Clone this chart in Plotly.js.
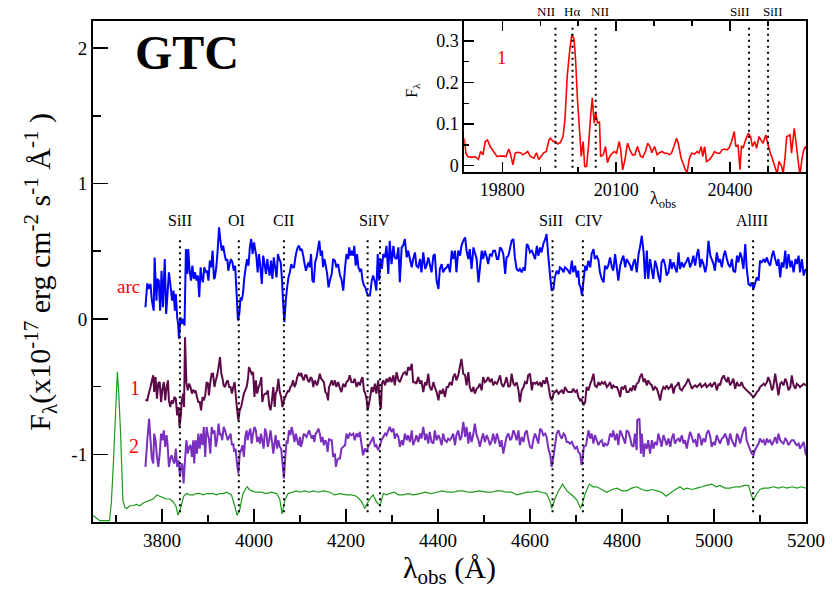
<!DOCTYPE html>
<html><head><meta charset="utf-8">
<script src="https://cdn.plot.ly/plotly-3.0.1.min.js"></script>
<style>html,body{margin:0;padding:0;background:#fff}#chart{width:837px;height:593px}</style>
</head><body><div id="chart"></div>
<script>
// ---------- DATA (wavelength [Å], flux) ----------
const arcSpec = [
[3764,0.086],[3768,0.263],[3771,0.221],[3775,0.258],[3778,0.135],[3782,0.061],[3784,0.454],[3788,0.135],[3790,0.295],[3793,0.283],
[3796,0.061],[3799,0.356],[3802,0.086],[3806,0.442],[3809,0.037],[3812,0.184],[3815,0.344],[3818,0.258],[3822,0.135],[3825,0.209],
[3828,0.061],[3830,0.184],[3833,0.012],[3835,-0.037],[3837,-0.147],[3840,0.012],[3843,-0.037],[3846,0],[3849,-0.049],
[3852,0.516],[3855,0.332],[3857,0.516],[3860,0.356],[3863,0.283],[3866,0.393],[3869,0.295],[3872,0.344],[3875,0.283],[3878,0.32],
[3881,0.16],[3884,0.381],[3886,0.307],[3889,0.27],[3892,0.381],[3895,0.344],[3898,0.356],[3901,0.283],[3904,0.43],[3907,0.381],
[3910,0.504],[3913,0.295],[3915,0.307],[3918,0.381],[3921,0.504],[3924,0.676],[3927,0.577],[3930,0.504],[3933,0.54],[3936,0.479],
[3939,0.43],[3942,0.442],[3944,0.356],[3947,0.405],[3950,0.442],[3953,0.418],[3956,0.356],[3959,0.393],[3962,0.197],[3965,-0.012],
[3968,0.037],[3971,0.16],[3973,0.135],[3976,0.184],[3979,0.307],[3982,0.381],[3985,0.442],[3988,0.393],[3991,0.528],[3994,0.59],
[3997,0.479],[4000,0.565],[4003,0.504],[4005,0.467],[4008,0.344],[4011,0.479],[4014,0.381],[4017,0.258],[4020,0.467],[4023,0.405],
[4026,0.332],[4029,0.442],[4031,0.381],[4034,0.32],[4037,0.43],[4040,0.295],[4043,0.454],[4046,0.381],[4049,0.307],[4052,0.479],
[4055,0.442],[4058,0.418],[4061,0.283],[4063,0.135],[4066,-0.025],[4069,0.135],[4072,0.233],[4075,0.307],[4078,0.344],[4081,0.405],
[4084,0.381],[4087,0.381],[4090,0.454],[4092,0.491],[4095,0.528],[4098,0.54],[4101,0.504],[4104,0.516],[4107,0.467],[4110,0.405],
[4113,0.356],[4116,0.393],[4119,0.418],[4121,0.381],[4124,0.479],[4127,0.283],[4130,0.27],[4133,0.418],[4136,0.454],[4139,0.516],
[4142,0.577],[4145,0.467],[4148,0.504],[4150,0.381],[4153,0.442],[4156,0.393],[4159,0.332],[4162,0.233],[4165,0.283],
[4169,0.332],[4172,0.442],[4176,0.43],[4179,0.381],[4183,0.405],[4187,0.32],[4190,0.295],[4194,0.209],[4198,0.381],[4201,0.479],
[4205,0.442],[4207,0.528],[4210,0.467],[4213,0.504],[4216,0.467],[4218,0.54],[4221,0.393],[4224,0.479],[4227,0.381],[4230,0.356],
[4233,0.369],[4236,0.283],[4239,0.246],[4242,0.233],[4245,0.197],[4248,0.172],[4252,0.172],[4256,0.283],[4259,0.32],[4263,0.27],
[4266,0.209],[4269,0.479],[4272,0.283],[4275,0.442],[4278,0.369],[4281,0.479],
[4285,0.454],[4288,0.54],[4292,0.332],[4295,0.577],[4299,0.405],[4303,0.54],[4306,0.454],[4310,0.442],[4314,0.528],[4317,0.27],
[4321,0.528],[4324,0.54],[4328,0.59],[4332,0.454],[4335,0.504],[4339,0.442],[4343,0.381],[4346,0.442],[4350,0.491],[4353,0.393],
[4357,0.381],[4361,0.442],[4364,0.344],[4368,0.491],[4372,0.369],[4375,0.393],[4379,0.454],[4382,0.405],[4386,0.344],[4390,0.467],
[4393,0.479],[4397,0.283],[4401,0.221],[4404,0.369],[4408,0.405],[4411,0.344],[4415,0.369],[4419,0.381],[4422,0.405],[4426,0.344],
[4430,0.504],[4433,0.442],[4437,0.504],[4440,0.344],[4444,0.504],[4448,0.467],[4451,0.54],[4455,0.577],[4459,0.602],[4462,0.504],
[4466,0.442],[4469,0.516],[4473,0.369],[4477,0.528],[4480,0.491],[4484,0.442],[4488,0.27],[4491,0.369],[4495,0.504],[4498,0.442],
[4502,0.504],[4506,0.454],[4509,0.405],[4513,0.479],[4517,0.467],[4520,0.504],[4524,0.504],[4528,0.442],[4531,0.442],[4535,0.528],
[4538,0.516],[4542,0.479],[4546,0.332],[4549,0.454],[4553,0.467],[4557,0.528],[4560,0.577],[4564,0.59],[4567,0.454],[4571,0.369],
[4575,0.356],[4578,0.369],[4582,0.344],[4586,0.381],[4589,0.356],[4593,0.553],[4596,0.54],[4600,0.491],[4604,0.504],[4607,0.479],
[4611,0.442],[4615,0.54],[4618,0.467],[4622,0.528],[4625,0.491],[4629,0.553],[4633,0.59],[4636,0.626],[4640,0.454],[4644,0.307],
[4647,0.209],[4651,0.221],[4654,0.307],[4658,0.356],[4662,0.332],[4665,0.381],[4669,0.369],[4673,0.344],[4676,0.381],[4680,0.369],
[4683,0.356],[4687,0.332],
[4691,0.43],[4694,0.344],[4698,0.393],[4702,0.307],[4705,0.356],[4707,0.258],[4710,0.233],[4713,0.172],
[4716,0.27],[4720,0.393],[4723,0.356],[4727,0.43],[4731,0.381],[4734,0.479],[4738,0.516],[4741,0.442],[4745,0.467],[4749,0.43],
[4752,0.344],[4756,0.295],[4760,0.27],[4763,0.393],[4767,0.369],[4770,0.393],[4774,0.454],[4778,0.381],[4781,0.356],[4785,0.479],
[4789,0.369],[4792,0.283],[4796,0.393],[4799,0.43],[4803,0.467],[4807,0.381],[4810,0.442],[4814,0.418],[4818,0.393],[4821,0.356],
[4825,0.418],[4828,0.442],[4832,0.344],[4836,0.479],[4839,0.528],[4843,0.614],[4847,0.491],[4850,0.295],[4854,0.504],[4857,0.295],
[4861,0.442],[4865,0.356],[4868,0.295],[4872,0.43],[4876,0.381],[4879,0.32],[4883,0.27],[4886,0.418],[4890,0.442],[4894,0.393],
[4897,0.32],[4901,0.344],[4905,0.442],[4908,0.369],[4912,0.418],[4915,0.381],[4919,0.344],[4923,0.491],[4926,0.369],[4930,0.418],
[4934,0.381],[4937,0.405],[4941,0.43],[4944,0.454],[4948,0.381],[4952,0.418],[4955,0.467],[4959,0.393],[4963,0.479],[4966,0.516],
[4970,0.381],[4973,0.442],[4977,0.405],[4981,0.344],[4984,0.393],[4988,0.577],[4992,0.467],[4995,0.442],[4999,0.405],[5002,0.356],
[5006,0.491],[5010,0.418],[5013,0.442],[5017,0.381],[5021,0.467],[5024,0.504],[5028,0.442],[5031,0.405],[5035,0.381],[5039,0.442],
[5042,0.356],[5046,0.344],[5050,0.467],[5053,0.418],[5057,0.491],[5060,0.454],[5064,0.369],[5068,0.553],[5071,0.381],[5075,0.258],
[5079,0.246],[5082,0.27],[5086,0.221],[5089,0.258],[5093,0.307],[5097,0.283],[5100,0.43],[5104,0.418],[5108,0.442],[5111,0.418],
[5115,0.454],[5118,0.418],[5122,0.393],[5126,0.467],[5129,0.504],[5133,0.442],[5137,0.393],[5140,0.442],[5144,0.307],[5147,0.418],
[5151,0.381],[5155,0.504],[5158,0.369],[5162,0.479],[5166,0.381],[5169,0.43],[5173,0.344],[5177,0.442],[5180,0.405],[5184,0.467],
[5187,0.344],[5191,0.442],[5195,0.32],[5198,0.356],[5200,0.369]
];

const knot1Spec = [
[3764,-0.597],[3768,-0.602],[3772,-0.54],[3775,-0.503],[3778,-0.454],[3781,-0.417],[3783,-0.54],[3786,-0.43],[3789,-0.589],[3792,-0.474],
[3795,-0.467],[3798,-0.614],[3801,-0.516],[3804,-0.467],[3807,-0.602],[3810,-0.503],[3813,-0.454],[3815,-0.602],[3818,-0.651],[3821,-0.602],
[3824,-0.626],[3827,-0.577],[3830,-0.589],[3833,-0.712],[3836,-0.651],[3838,-0.798],[3841,-0.712],[3843,-0.602],[3846,-0.552],[3848,-0.651],
[3850,-0.135],[3853,-0.467],[3856,-0.528],[3859,-0.479],[3862,-0.503],[3865,-0.552],[3868,-0.528],[3871,-0.54],[3873,-0.528],[3876,-0.577],
[3879,-0.614],[3882,-0.614],[3885,-0.675],[3888,-0.577],[3891,-0.602],[3894,-0.565],[3897,-0.467],[3900,-0.479],[3902,-0.565],[3905,-0.467],
[3908,-0.405],[3911,-0.405],[3914,-0.503],[3917,-0.454],[3920,-0.417],[3923,-0.356],[3926,-0.282],[3929,-0.405],[3931,-0.43],[3934,-0.491],
[3937,-0.503],[3940,-0.467],[3943,-0.454],[3946,-0.503],[3949,-0.503],[3952,-0.552],[3955,-0.503],[3958,-0.467],[3960,-0.552],[3963,-0.663],
[3966,-0.749],[3969,-0.675],[3972,-0.651],[3975,-0.602],[3978,-0.552],[3981,-0.528],[3984,-0.503],[3987,-0.442],[3989,-0.356],[3992,-0.38],
[3995,-0.405],[3998,-0.393],[4001,-0.577],[4004,-0.454],[4007,-0.552],[4010,-0.503],[4013,-0.479],[4016,-0.43],[4018,-0.614],[4021,-0.565],
[4024,-0.552],[4027,-0.552],[4030,-0.528],[4033,-0.638],[4036,-0.675],[4039,-0.602],[4042,-0.503],[4045,-0.651],[4047,-0.552],[4050,-0.528],
[4053,-0.442],[4056,-0.54],[4059,-0.577],[4062,-0.651],[4065,-0.602],[4068,-0.577],[4071,-0.552],[4074,-0.528],[4076,-0.54],[4079,-0.503],
[4082,-0.491],[4085,-0.454],[4088,-0.503],[4091,-0.479],[4094,-0.43],[4097,-0.405],[4100,-0.417],[4103,-0.4],[4105,-0.43],[4108,-0.454],
[4111,-0.417],[4114,-0.417],[4117,-0.454],[4120,-0.467],[4123,-0.43],[4126,-0.442],[4129,-0.503],[4132,-0.454],[4134,-0.467],[4137,-0.491],
[4140,-0.454],[4143,-0.405],[4146,-0.442],[4149,-0.454],[4152,-0.467],[4155,-0.54],[4158,-0.552],[4161,-0.602],[4163,-0.503],[4165,-0.491],
[4169,-0.454],[4172,-0.491],[4176,-0.454],[4179,-0.503],[4183,-0.467],[4187,-0.516],[4190,-0.54],[4194,-0.479],[4198,-0.503],[4201,-0.467],
[4205,-0.454],[4208,-0.417],[4212,-0.467],[4216,-0.467],[4219,-0.442],[4223,-0.503],[4227,-0.467],[4230,-0.491],[4234,-0.442],
[4236,-0.43],[4239,-0.528],[4242,-0.552],[4245,-0.602],[4247,-0.675],[4250,-0.626],[4252,-0.589],
[4256,-0.503],[4259,-0.54],[4263,-0.479],[4266,-0.552],[4270,-0.454],[4274,-0.638],[4276,-0.663],[4278,-0.479],[4281,-0.454],
[4285,-0.491],[4288,-0.442],[4292,-0.467],[4295,-0.43],[4299,-0.467],[4303,-0.417],[4306,-0.491],[4310,-0.393],[4314,-0.454],[4317,-0.467],
[4321,-0.43],[4324,-0.405],[4328,-0.393],[4332,-0.417],[4335,-0.356],[4339,-0.38],[4343,-0.331],[4346,-0.467],[4350,-0.467],[4353,-0.479],
[4357,-0.43],[4361,-0.479],[4364,-0.454],[4368,-0.54],[4372,-0.467],[4375,-0.491],[4379,-0.405],[4382,-0.503],[4386,-0.528],[4390,-0.467],
[4393,-0.503],[4397,-0.54],[4401,-0.602],[4404,-0.528],[4408,-0.552],[4411,-0.516],[4415,-0.577],[4419,-0.503],[4422,-0.503],[4426,-0.467],
[4430,-0.491],[4433,-0.43],[4437,-0.405],[4440,-0.454],[4444,-0.417],[4448,-0.344],[4451,-0.295],[4455,-0.405],[4459,-0.417],[4462,-0.491],
[4466,-0.393],[4469,-0.503],[4473,-0.54],[4477,-0.503],[4480,-0.552],[4484,-0.516],[4488,-0.503],[4491,-0.479],[4495,-0.528],[4498,-0.43],
[4502,-0.467],[4506,-0.454],[4509,-0.43],[4513,-0.467],[4517,-0.442],[4520,-0.491],[4524,-0.467],[4528,-0.479],[4531,-0.454],[4535,-0.417],
[4538,-0.479],[4542,-0.503],[4546,-0.467],[4549,-0.43],[4553,-0.503],[4557,-0.491],[4560,-0.405],[4564,-0.479],[4567,-0.491],[4571,-0.467],
[4575,-0.528],[4578,-0.614],[4582,-0.528],[4586,-0.503],[4589,-0.467],[4593,-0.479],[4596,-0.417],[4600,-0.405],[4604,-0.528],[4607,-0.467],
[4611,-0.479],[4615,-0.467],[4618,-0.491],[4622,-0.467],[4625,-0.503],[4629,-0.454],[4633,-0.479],[4636,-0.43],[4640,-0.491],[4644,-0.577],
[4647,-0.602],[4651,-0.552],[4654,-0.54],[4658,-0.528],[4662,-0.552],[4665,-0.54],[4669,-0.528],[4673,-0.552],[4676,-0.503],[4680,-0.528],
[4683,-0.54],[4687,-0.54],
[4691,-0.54],[4694,-0.516],[4698,-0.54],[4702,-0.528],[4705,-0.577],[4709,-0.602],[4712,-0.589],[4716,-0.638],
[4720,-0.614],[4723,-0.503],[4727,-0.528],[4731,-0.479],[4734,-0.454],[4738,-0.405],[4741,-0.491],[4745,-0.503],[4749,-0.467],[4752,-0.491],
[4756,-0.467],[4760,-0.479],[4763,-0.467],[4767,-0.503],[4770,-0.491],[4774,-0.467],[4778,-0.516],[4781,-0.491],[4785,-0.503],[4789,-0.503],
[4792,-0.528],[4796,-0.577],[4799,-0.503],[4803,-0.516],[4807,-0.491],[4810,-0.54],[4814,-0.54],[4818,-0.516],[4821,-0.528],[4825,-0.491],
[4828,-0.528],[4832,-0.479],[4836,-0.467],[4839,-0.43],[4843,-0.405],[4847,-0.467],[4850,-0.442],[4854,-0.491],[4857,-0.454],[4861,-0.479],
[4865,-0.491],[4868,-0.528],[4872,-0.503],[4876,-0.516],[4879,-0.552],[4883,-0.602],[4886,-0.54],[4890,-0.503],[4894,-0.516],[4897,-0.491],
[4901,-0.516],[4905,-0.503],[4908,-0.479],[4912,-0.552],[4915,-0.503],[4919,-0.491],[4923,-0.467],[4926,-0.516],[4930,-0.528],[4934,-0.503],
[4937,-0.491],[4941,-0.467],[4944,-0.442],[4948,-0.479],[4952,-0.516],[4955,-0.503],[4959,-0.491],[4963,-0.503],[4966,-0.491],[4970,-0.479],
[4973,-0.503],[4977,-0.491],[4981,-0.479],[4984,-0.503],[4988,-0.491],[4992,-0.479],[4995,-0.503],[4999,-0.479],[5002,-0.467],[5006,-0.528],
[5010,-0.479],[5013,-0.491],[5017,-0.442],[5021,-0.417],[5024,-0.442],[5028,-0.467],[5031,-0.43],[5035,-0.491],[5039,-0.467],[5042,-0.442],
[5046,-0.516],[5050,-0.467],[5053,-0.491],[5057,-0.491],[5060,-0.467],[5064,-0.503],[5068,-0.516],[5071,-0.528],[5075,-0.54],[5079,-0.552],
[5082,-0.565],[5086,-0.577],[5089,-0.565],[5093,-0.54],[5097,-0.528],[5100,-0.503],[5104,-0.491],[5108,-0.479],[5111,-0.491],[5115,-0.467],
[5118,-0.43],[5122,-0.467],[5126,-0.528],[5129,-0.503],[5133,-0.405],[5137,-0.491],[5140,-0.565],[5144,-0.479],[5147,-0.467],[5151,-0.491],
[5155,-0.442],[5158,-0.467],[5162,-0.528],[5166,-0.503],[5169,-0.417],[5173,-0.491],[5177,-0.516],[5180,-0.479],[5184,-0.491],[5187,-0.503],
[5191,-0.491],[5195,-0.479],[5200,-0.491]
];

const knot2Spec = [
[3764,-1.093],[3768,-0.896],[3772,-0.737],
[3775,-0.896],[3778,-1.031],[3781,-1.068],[3783,-0.847],[3786,-0.896],[3789,-1.019],[3792,-1.093],[3795,-0.995],[3798,-0.847],[3801,-0.896],
[3804,-0.823],[3807,-0.945],[3810,-0.859],[3812,-0.921],[3815,-1.093],[3818,-1.031],[3821,-1.007],[3824,-1.044],[3827,-1.068],[3830,-0.958],
[3833,-1.093],[3836,-1.044],[3839,-1.166],[3841,-1.093],[3844,-1.068],[3847,-1.216],[3850,-1.044],[3853,-0.896],[3856,-0.995],[3859,-0.945],
[3862,-0.933],[3865,-1.019],[3868,-0.896],[3870,-1.068],[3873,-0.896],[3876,-0.995],[3879,-0.847],[3882,-0.958],[3885,-0.847],[3888,-0.933],
[3891,-0.798],[3894,-1.019],[3897,-0.798],[3899,-0.847],[3902,-0.884],[3905,-0.995],[3908,-0.798],[3911,-0.847],[3914,-0.823],[3917,-0.945],
[3920,-0.884],[3923,-0.774],[3926,-0.859],[3928,-0.847],[3931,-0.896],[3934,-0.798],[3937,-0.823],[3940,-0.859],[3943,-0.896],[3946,-0.872],
[3949,-0.847],[3952,-0.933],[3955,-0.921],[3957,-0.982],[3960,-0.958],[3963,-1.068],[3966,-1.142],[3969,-0.995],[3972,-0.97],[3975,-0.933],
[3978,-1.019],[3981,-0.872],[3984,-0.823],[3986,-0.896],[3989,-0.847],[3992,-0.81],[3995,-0.921],[3998,-0.847],[4001,-0.798],[4004,-0.823],
[4007,-0.909],[4010,-0.872],[4013,-0.921],[4015,-0.847],[4018,-0.896],[4021,-0.958],[4024,-0.81],[4027,-0.847],[4030,-0.945],[4033,-0.896],
[4036,-0.823],[4039,-0.909],[4042,-0.995],[4044,-0.933],[4047,-0.859],[4050,-0.958],[4053,-0.896],[4056,-0.945],[4059,-0.958],[4062,-1.068],
[4065,-1.179],[4068,-1.019],[4071,-0.896],[4073,-0.921],[4076,-0.823],[4079,-0.859],[4082,-0.798],[4085,-0.847],[4088,-0.909],[4091,-0.847],
[4094,-0.896],[4097,-0.933],[4100,-0.872],[4102,-0.945],[4105,-0.909],[4108,-0.847],[4111,-0.859],[4114,-0.872],[4117,-0.847],[4120,-0.823],
[4123,-0.859],[4126,-0.884],[4129,-0.859],[4131,-0.909],[4134,-0.847],[4137,-0.835],[4140,-0.81],[4143,-0.847],[4146,-0.909],[4149,-0.872],
[4152,-0.933],[4155,-0.896],[4158,-0.921],[4160,-0.982],[4163,-0.884],[4165,-0.896],
[4169,-0.896],[4172,-1.019],[4176,-0.995],[4178,-1.093],[4181,-1.044],[4184,-1.031],[4187,-1.031],
[4190,-0.958],[4194,-0.945],[4198,-0.933],[4201,-0.847],[4205,-0.884],[4208,-0.847],[4212,-0.859],[4216,-0.847],[4219,-0.896],[4223,-0.847],
[4227,-0.872],[4230,-0.835],[4234,-0.933],[4237,-1.007],[4241,-0.958],[4245,-0.982],[4248,-0.945],[4252,-0.921],[4256,-0.896],[4259,-0.872],
[4263,-0.945],[4266,-0.933],[4270,-0.97],[4274,-0.933],[4277,-0.896],[4281,-0.872],
[4285,-0.847],[4288,-0.859],[4292,-0.823],[4295,-0.798],[4299,-0.835],[4303,-0.81],[4306,-0.884],[4310,-0.847],[4314,-0.872],[4317,-0.945],
[4321,-0.896],[4324,-0.933],[4328,-0.847],[4332,-0.896],[4335,-0.859],[4339,-0.909],[4343,-0.823],[4346,-0.933],[4350,-0.896],[4353,-0.859],
[4357,-0.909],[4361,-0.847],[4364,-0.884],[4368,-0.798],[4372,-0.896],[4375,-0.847],[4379,-0.921],[4382,-0.835],[4386,-0.909],[4390,-0.921],
[4393,-0.823],[4397,-0.896],[4401,-0.859],[4404,-0.884],[4408,-0.933],[4411,-0.847],[4415,-0.896],[4419,-0.909],[4422,-0.884],[4426,-0.896],
[4430,-0.872],[4433,-0.847],[4437,-0.933],[4440,-0.859],[4444,-0.823],[4448,-0.896],[4451,-0.872],[4455,-0.761],[4459,-0.872],[4462,-0.798],
[4466,-0.921],[4469,-0.835],[4473,-0.909],[4477,-0.847],[4480,-0.774],[4484,-0.859],[4488,-0.896],[4491,-0.945],[4495,-0.884],[4498,-0.847],
[4502,-0.909],[4506,-0.859],[4509,-0.884],[4513,-0.933],[4517,-0.896],[4520,-0.847],[4524,-0.921],[4528,-0.847],[4531,-0.884],[4535,-0.945],
[4538,-0.896],[4542,-0.995],[4546,-0.921],[4549,-0.872],[4553,-0.847],[4557,-0.896],[4560,-0.884],[4564,-0.823],[4567,-0.847],[4571,-0.896],
[4575,-0.823],[4578,-0.933],[4582,-0.872],[4586,-0.909],[4589,-0.847],[4593,-0.823],[4596,-0.884],[4600,-0.945],[4604,-0.958],[4607,-0.896],
[4611,-0.847],[4615,-0.884],[4618,-0.921],[4622,-0.81],[4625,-0.823],[4629,-0.859],[4633,-0.847],[4636,-0.872],[4640,-0.958],[4644,-1.007],
[4647,-1.093],[4651,-1.019],[4654,-0.945],[4658,-0.847],[4662,-0.823],[4665,-0.859],[4669,-0.884],[4673,-0.847],[4676,-0.859],[4680,-0.909],
[4683,-0.909],[4687,-0.921],
[4691,-0.909],[4694,-0.933],[4698,-0.958],[4702,-0.945],[4705,-0.982],[4709,-0.995],[4712,-1.08],[4714,-1.044],[4717,-0.945],[4722,-0.933],[4727,-0.823],
[4731,-0.884],[4734,-0.847],[4738,-0.921],[4741,-0.859],[4745,-0.896],[4749,-0.933],[4752,-0.909],[4756,-0.896],[4760,-0.945],[4763,-0.921],
[4767,-0.933],[4770,-0.921],[4774,-0.847],[4778,-0.872],[4781,-0.823],[4785,-0.896],[4789,-0.847],[4792,-0.933],[4796,-0.823],[4799,-0.847],
[4803,-0.884],[4807,-0.921],[4810,-0.823],[4814,-0.835],[4818,-0.884],[4821,-0.933],[4825,-0.945],[4828,-0.847],[4832,-0.97],
[4833,-0.749],[4838,-0.737],[4841,-0.995],[4843,-0.847],
[4847,-1.019],[4850,-0.921],[4854,-0.958],[4857,-0.896],[4861,-0.995],[4865,-0.896],[4868,-0.958],[4872,-0.909],[4876,-0.933],[4879,-0.847],
[4883,-0.896],[4886,-0.945],[4890,-0.859],[4894,-0.896],[4897,-0.933],[4901,-0.884],[4905,-0.945],[4908,-0.884],[4912,-0.847],[4915,-0.921],
[4919,-0.896],[4923,-0.884],[4926,-0.909],[4930,-0.859],[4934,-0.921],[4937,-0.896],[4941,-0.958],[4944,-0.896],[4948,-0.835],[4952,-0.872],
[4955,-0.909],[4959,-0.896],[4963,-0.945],[4966,-0.847],[4970,-0.872],[4973,-0.933],[4977,-0.884],[4981,-0.909],[4984,-0.847],[4988,-0.823],
[4992,-0.872],[4995,-0.945],[4999,-0.909],[5002,-0.933],[5006,-0.859],[5010,-0.896],[5013,-0.921],[5017,-0.884],[5021,-0.872],[5024,-0.847],
[5028,-0.884],[5031,-0.933],[5035,-0.847],[5039,-0.896],[5042,-0.921],[5046,-0.945],[5050,-0.847],[5053,-0.872],[5057,-0.921],[5060,-0.872],
[5064,-0.823],[5068,-0.798],[5071,-0.896],[5075,-0.933],[5079,-0.97],[5082,-0.995],[5086,-1.007],[5089,-0.97],[5093,-0.945],[5097,-0.921],
[5100,-0.884],[5104,-0.909],[5108,-0.896],[5111,-0.933],[5115,-0.884],[5118,-0.909],[5122,-0.896],[5126,-0.933],[5129,-0.909],[5133,-0.872],
[5137,-0.921],[5140,-0.847],[5144,-0.896],[5147,-0.909],[5151,-0.921],[5155,-0.884],[5158,-0.896],[5162,-0.933],[5166,-0.909],[5169,-0.896],
[5173,-0.896],[5177,-0.921],[5180,-0.933],[5184,-0.921],[5187,-0.958],[5195,-0.909],[5198,-0.97],[5200,-1.007]
];

const templateSpec = [
[3650,-1.45],[3657,-1.47],[3665,-1.49],[3676,-1.49],[3686,-1.49],[3690,-1.35],[3694,-1.09],[3699,-0.70],[3703,-0.39],[3706,-0.55],
[3710,-0.85],[3715,-1.34],[3719,-1.39],[3723,-1.40],[3730,-1.38],[3737,-1.38],[3744,-1.37],[3752,-1.38],[3759,-1.36],[3766,-1.35],
[3773,-1.34],[3781,-1.33],[3789,-1.30],[3795,-1.31],[3802,-1.32],[3810,-1.33],[3817,-1.33],[3824,-1.35],[3830,-1.38],[3835,-1.45],
[3842,-1.38],[3847,-1.31],[3853,-1.29],[3860,-1.30],[3868,-1.30],[3875,-1.29],[3882,-1.29],[3890,-1.30],[3897,-1.29],[3904,-1.29],
[3911,-1.29],[3918,-1.30],[3926,-1.29],[3933,-1.29],[3940,-1.28],[3951,-1.30],[3958,-1.38],[3963,-1.45],[3969,-1.41],[3976,-1.29],
[3985,-1.24],[3990,-1.26],[3995,-1.27],[4005,-1.28],[4016,-1.28],[4027,-1.29],[4038,-1.28],[4049,-1.29],[4056,-1.33],[4061,-1.44],
[4067,-1.34],[4074,-1.29],[4083,-1.28],[4092,-1.27],[4100,-1.28],[4110,-1.27],[4120,-1.28],[4129,-1.27],[4140,-1.28],[4150,-1.27],
[4165,-1.28],[4175,-1.30],[4188,-1.29],[4201,-1.30],[4212,-1.30],[4223,-1.31],[4234,-1.35],[4241,-1.40],[4248,-1.35],[4254,-1.32],
[4259,-1.30],[4266,-1.35],[4274,-1.38],[4281,-1.29],[4288,-1.30],[4295,-1.29],[4305,-1.28],[4314,-1.30],[4324,-1.30],[4335,-1.29],
[4346,-1.30],[4361,-1.29],[4372,-1.28],[4385,-1.29],[4397,-1.28],[4410,-1.27],[4420,-1.28],[4433,-1.28],[4444,-1.27],[4455,-1.27],
[4466,-1.28],[4477,-1.28],[4490,-1.27],[4506,-1.28],[4516,-1.28],[4527,-1.27],[4538,-1.27],[4549,-1.28],[4560,-1.28],[4571,-1.30],
[4582,-1.29],[4593,-1.28],[4604,-1.28],[4615,-1.27],[4625,-1.28],[4636,-1.29],[4644,-1.35],[4647,-1.40],[4654,-1.33],[4662,-1.27],
[4671,-1.22],[4680,-1.27],[4687,-1.29],[4694,-1.31],[4702,-1.34],[4710,-1.40],[4715,-1.35],[4720,-1.29],[4729,-1.22],[4737,-1.24],
[4745,-1.24],[4756,-1.26],[4767,-1.28],[4778,-1.26],[4789,-1.25],[4800,-1.27],[4810,-1.27],[4821,-1.25],[4832,-1.24],[4843,-1.26],
[4854,-1.27],[4865,-1.26],[4876,-1.27],[4886,-1.28],[4896,-1.31],[4904,-1.29],[4912,-1.27],[4926,-1.24],[4934,-1.26],[4941,-1.25],
[4952,-1.26],[4963,-1.25],[4974,-1.24],[4984,-1.23],[4995,-1.22],[5004,-1.24],[5013,-1.23],[5024,-1.25],[5035,-1.25],[5046,-1.24],
[5057,-1.24],[5066,-1.23],[5075,-1.23],[5082,-1.31],[5086,-1.34],[5093,-1.29],[5100,-1.26],[5108,-1.25],[5118,-1.25],[5129,-1.24],
[5140,-1.25],[5150,-1.24],[5158,-1.25],[5170,-1.24],[5180,-1.25],[5190,-1.24],[5200,-1.25]
];

const halphaSpec = [
[19700,0.066],[19704,0.030],[19709,0.022],[19720,0.020],[19728,0.022],[19737,0.015],[19743,0.034],[19749,0.026],[19755,0.058],[19761,0.062],
[19768,0.046],[19777,0.034],[19786,0.022],[19795,0.023],[19803,0.023],[19810,0.022],[19817,0.040],[19821,0.030],[19828,0.002],[19834,0.030],
[19840,0.032],[19848,0.031],[19854,0.026],[19861,0.030],[19867,0.034],[19874,0.022],[19883,0.018],[19890,0.031],[19896,0.015],[19902,0.022],
[19909,0.031],[19916,0.034],[19923,0.062],[19927,0.066],[19934,0.058],[19940,0.058],[19946,0.052],[19953,0.056],[19960,0.070],[19965,0.110],
[19971,0.215],[19977,0.272],[19983,0.316],[19989,0.304],[19993,0.256],[19998,0.159],[20004,0.078],[20008,0.022],[20013,0.058],[20017,-0.002],
[20022,-0.002],[20027,0.046],[20033,0.123],[20037,0.163],[20042,0.102],[20046,0.127],[20051,0.102],[20056,0.106],[20059,0.022],[20066,0.026],
[20072,0.046],[20077,0.007],[20083,0.022],[20088,0.028],[20095,0.034],[20101,0.030],[20108,0.058],[20112,0.038],[20117,-0.010],[20123,0.014],
[20130,0.054],[20137,0.036],[20143,0.026],[20149,0.026],[20156,0.046],[20164,0.023],[20170,0.020],[20177,0.034],[20183,0.054],[20189,0.046],
[20194,0.031],[20201,0.046],[20208,0.026],[20214,0.031],[20221,0.034],[20227,0.030],[20234,0.030],[20240,0.026],[20246,0.031],[20252,0.046],
[20259,0.066],[20264,0.052],[20271,0.018],[20276,0.006],[20282,-0.010],[20287,-0.015],[20293,0.018],[20299,0.030],[20306,0.028],[20313,0.034],
[20318,0.030],[20324,0.046],[20328,0.022],[20333,0.046],[20338,0.010],[20346,0.015],[20352,0.022],[20359,0.034],[20366,0.030],[20373,0.030],
[20379,0.038],[20386,0.040],[20392,0.038],[20397,0.042],[20404,0.058],[20411,0.082],[20415,0.046],[20421,0.050],[20426,-0.010],[20430,0.048],
[20434,0.042],[20441,0.062],[20448,0.078],[20454,0.070],[20459,0.046],[20465,0.058],[20470,0.042],[20476,0.070],[20481,0.062],[20487,0.054],
[20494,0.074],[20499,0.054],[20505,0.034],[20511,0.018],[20518,-0.002],[20524,-0.019],[20529,0.010],[20536,-0.002],[20540,-0.019],[20545,0.022],
[20549,0.070],[20554,0.072],[20558,0.074],[20562,0.030],[20569,0.090],[20574,0.054],[20580,0.006],[20584,-0.023],[20589,0.014],[20593,0.034],
[20598,0.046],[20600,0.040]
];

// absorption / emission line identifications
const absLineWaves = [3839, 3967, 4065, 4247, 4274, 4649, 4715, 5085];
const absLabelTexts = ['SiII', 'OI', 'CII', 'SiIV', 'SiII', 'CIV', 'AlIII'];
const absLabelWaves = [3839, 3963, 4065, 4262, 4646, 4728, 5082];
const emLineWaves = [19940, 19985, 20046, 20450, 20500];
const emLabelTexts = ['NII', 'Hα', 'NII', 'SiII', 'SiII'];
const emLabelWaves = [19914, 19984, 20057, 20425, 20512];

// tick labels
const xTickVals = [3800, 4000, 4200, 4400, 4600, 4800, 5000, 5200];
const xTickText = ['3800', '4000', '4200', '4400', '4600', '4800', '5000', '5200'];
const yTickVals = [-1, 0, 1, 2];
const yTickText = ['-1', '0', '1', '2'];
const x2TickVals = [19800, 20100, 20400];
const x2TickText = ['19800', '20100', '20400'];
const y2TickVals = [0, 0.1, 0.2, 0.3];
const y2TickText = ['0', '0.1', '0.2', '0.3'];

// series names
const seriesLabels = ['arc', '1', '2'];

// ---------- DRAWING ----------
const FONT = 'Liberation Serif, "Times New Roman", Times, serif';
const xs = a => a.map(p => p[0]);
const ys = a => a.map(p => p[1]);

const traces = [
  {x: xs(templateSpec), y: ys(templateSpec), mode: 'lines', line: {color: '#1c9a1c', width: 1.2, simplify: false}, xaxis: 'x', yaxis: 'y', hoverinfo: 'skip'},
  {x: xs(arcSpec), y: ys(arcSpec), mode: 'lines', line: {color: '#0000ff', width: 2, simplify: false}, xaxis: 'x', yaxis: 'y', hoverinfo: 'skip'},
  {x: xs(knot1Spec), y: ys(knot1Spec), mode: 'lines', line: {color: '#5c0a48', width: 2, simplify: false}, xaxis: 'x', yaxis: 'y', hoverinfo: 'skip'},
  {x: xs(knot2Spec), y: ys(knot2Spec), mode: 'lines', line: {color: '#7a2fbf', width: 2, simplify: false}, xaxis: 'x', yaxis: 'y', hoverinfo: 'skip'},
  {x: xs(halphaSpec), y: ys(halphaSpec), mode: 'lines', line: {color: '#ff0000', width: 1.6, simplify: false}, xaxis: 'x2', yaxis: 'y2', hoverinfo: 'skip'}
];

const dotLine = {color: 'black', width: 2, dash: '2px,4px'};
const shapes = [];
absLineWaves.forEach(w => shapes.push({type: 'line', xref: 'x', yref: 'y', x0: w, x1: w, y0: 0.58, y1: -1.44, line: dotLine}));
emLineWaves.forEach(w => shapes.push({type: 'line', xref: 'x2', yref: 'y2 domain', x0: w, x1: w, y0: 0.03, y1: 0.98, line: dotLine}));

const annotations = [];
absLabelTexts.forEach((t, i) => annotations.push({text: t, xref: 'x', yref: 'y', x: absLabelWaves[i], y: 0.728,
  showarrow: false, xanchor: 'center', yanchor: 'middle', font: {family: FONT, size: 16, color: 'black'}}));
emLabelTexts.forEach((t, i) => annotations.push({text: t, xref: 'x2', yref: 'paper', x: emLabelWaves[i], y: 1.018,
  showarrow: false, xanchor: 'center', yanchor: 'middle', font: {family: FONT, size: 13, color: 'black'}}));
// series labels (red)
const redFont = s => ({family: FONT, size: s, color: '#ff0000'});
annotations.push({text: seriesLabels[0], xref: 'x', yref: 'y', x: 3727, y: 0.236, showarrow: false, font: redFont(19)});
annotations.push({text: seriesLabels[1], xref: 'x', yref: 'y', x: 3741, y: -0.51, showarrow: false, font: redFont(20)});
annotations.push({text: seriesLabels[2], xref: 'x', yref: 'y', x: 3740, y: -0.94, showarrow: false, font: redFont(20)});
annotations.push({text: seriesLabels[1], xref: 'x2', yref: 'y2', x: 19799, y: 0.26, showarrow: false, font: redFont(19)});
// panel title
annotations.push({text: '<b>GTC</b>', xref: 'paper', yref: 'paper', x: 0.056, y: 0.938, xanchor: 'left', yanchor: 'middle',
  showarrow: false, font: {family: FONT, size: 48, color: 'black'}});
// axis titles
annotations.push({text: 'F<sub>λ</sub>(x10<sup>-17</sup> erg cm<sup>-2</sup> s<sup>-1</sup> Å<sup>-1</sup> )', xref: 'paper', yref: 'paper',
  x: -0.074, y: 0.5, xanchor: 'center', yanchor: 'middle', textangle: -90, showarrow: false, font: {family: FONT, size: 30, color: 'black'}});
annotations.push({text: 'λ<sub>obs</sub> (Å)', xref: 'paper', yref: 'paper', x: 0.5, y: -0.096, xanchor: 'center', yanchor: 'middle',
  showarrow: false, font: {family: FONT, size: 30, color: 'black'}});
annotations.push({text: 'λ<sub>obs</sub>', xref: 'paper', yref: 'paper', x: 0.80, y: 0.643, xanchor: 'center', yanchor: 'middle',
  showarrow: false, font: {family: FONT, size: 18, color: 'black'}});
annotations.push({text: 'F<sub>λ</sub>', xref: 'paper', yref: 'paper', x: 0.447, y: 0.862, xanchor: 'center', yanchor: 'middle',
  textangle: -90, showarrow: false, font: {family: FONT, size: 16, color: 'black'}});

const axisBase = {showgrid: false, zeroline: false, showline: true, linecolor: 'black', linewidth: 2,
  ticks: 'inside', tickcolor: 'black', tickwidth: 1.5, tickmode: 'array', tickfont: {family: FONT, size: 19, color: 'black'}};

const layout = {
  width: 837, height: 593,
  margin: {l: 93, r: 31, t: 21, b: 71, pad: 0},
  paper_bgcolor: 'white', plot_bgcolor: 'white',
  showlegend: false,
  font: {family: FONT, color: 'black'},
  xaxis: Object.assign({}, axisBase, {range: [3650, 5200], tickvals: xTickVals, ticktext: xTickText, ticklen: 13, mirror: true,
    minor: {tickmode: 'linear', tick0: 3700, dtick: 100, ticks: 'inside', ticklen: 7, tickwidth: 1.5, tickcolor: 'black'}, anchor: 'y'}),
  yaxis: Object.assign({}, axisBase, {range: [-1.5, 2.2], tickvals: yTickVals, ticktext: yTickText, ticklen: 15, mirror: true,
    minor: {tickmode: 'linear', tick0: -1.5, dtick: 0.5, ticks: 'inside', ticklen: 8, tickwidth: 1.5, tickcolor: 'black'}, anchor: 'x'}),
  xaxis2: Object.assign({}, axisBase, {domain: [0.5208, 1], anchor: 'y2', range: [19700, 20600], tickvals: x2TickVals, ticktext: x2TickText,
    ticklen: 10, mirror: 'ticks', tickfont: {family: FONT, size: 18, color: 'black'},
    minor: {tickmode: 'linear', tick0: 19700, dtick: 100, ticks: 'inside', ticklen: 5, tickwidth: 1.5, tickcolor: 'black'}}),
  yaxis2: Object.assign({}, axisBase, {domain: [0.698, 1], anchor: 'x2', range: [-0.016, 0.348], tickvals: y2TickVals, ticktext: y2TickText,
    ticklen: 10, mirror: true, tickfont: {family: FONT, size: 18, color: 'black'},
    minor: {tickmode: 'linear', tick0: 0, dtick: 0.05, ticks: 'inside', ticklen: 5, tickwidth: 1.5, tickcolor: 'black'}}),
  shapes: shapes,
  annotations: annotations
};

Plotly.newPlot('chart', traces, layout, {staticPlot: true, displayModeBar: false});
</script></body></html>
